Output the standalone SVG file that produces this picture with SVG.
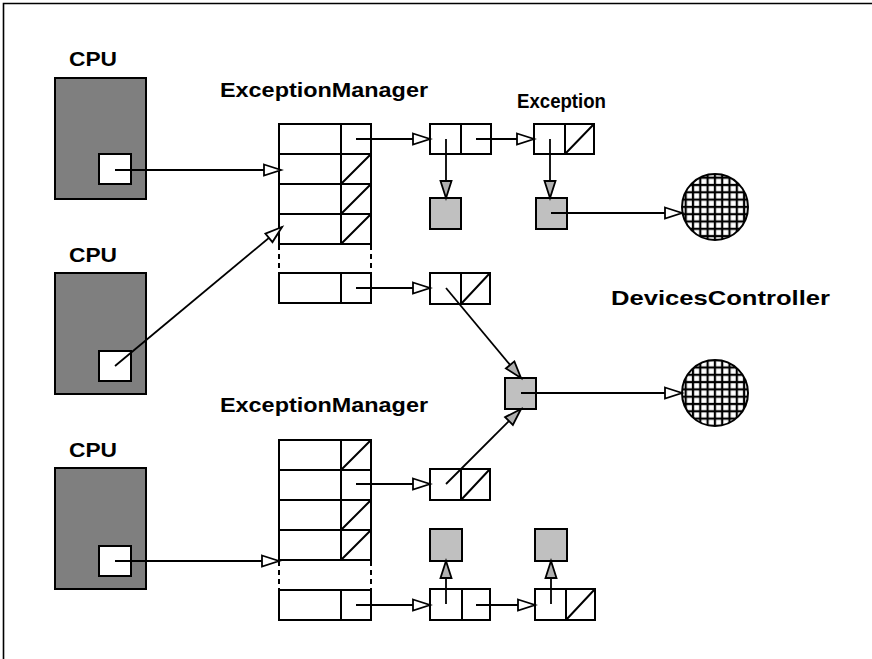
<svg xmlns="http://www.w3.org/2000/svg" width="872" height="659" viewBox="0 0 872 659">
  <style>
    .lbl { font-family: "Liberation Sans", Arial, Helvetica, sans-serif; font-weight: bold; font-size: 21px; fill: #000; }
    .cpu { fill: #7f7f7f; stroke: #000; stroke-width: 2; }
    .port { fill: #fff; stroke: #000; stroke-width: 2; }
    .cell { fill: #fff; stroke: #000; stroke-width: 2; }
    .obj { fill: #c0c0c0; stroke: #000; stroke-width: 2; }
    .slash { stroke: #000; stroke-width: 2; fill: none; }
    .dash { stroke: #000; stroke-width: 2; stroke-dasharray: 5 4; fill: none; }
    .dev { fill: url(#grid); stroke: #000; stroke-width: 2; }
    .wire { stroke: #000; stroke-width: 1.8; fill: none; }
    .w { marker-end: url(#arrowWhite); }
    .g { marker-end: url(#arrowGray); }
  </style>
  <defs>
    <marker id="arrowWhite" markerUnits="userSpaceOnUse" markerWidth="22" markerHeight="16" refX="17" refY="5.5" orient="auto" viewBox="-2 -2 22 16">
      <path d="M0,0 L17,5.5 L0,11 z" fill="#fff" stroke="#000" stroke-width="1.8"/>
    </marker>
    <marker id="arrowGray" markerUnits="userSpaceOnUse" markerWidth="22" markerHeight="16" refX="17" refY="5.5" orient="auto" viewBox="-2 -2 22 16">
      <path d="M0,0 L17,5.5 L0,11 z" fill="#b0b0b0" stroke="#000" stroke-width="1.8"/>
    </marker>
    <pattern id="grid" patternUnits="userSpaceOnUse" x="682" y="174" width="7.3" height="7.3">
      <rect width="7.3" height="7.3" fill="#fff"/>
      <rect x="2.6" y="0" width="2.2" height="7.3" fill="#000"/>
      <rect x="0" y="2.6" width="7.3" height="2.2" fill="#000"/>
    </pattern>
  </defs>

  <!-- frame -->
  <path d="M3.5,659 V3.5 H872" fill="none" stroke="#000" stroke-width="1.6"/>

  <!-- processors -->
  <g id="cpu1">
    <text class="lbl" x="69" y="66" textLength="48" lengthAdjust="spacingAndGlyphs">CPU</text>
    <rect class="cpu" x="55" y="78" width="91" height="121"/>
    <rect class="port" x="99" y="154" width="32" height="30"/>
  </g>
  <g id="cpu2">
    <text class="lbl" x="69" y="262" textLength="48" lengthAdjust="spacingAndGlyphs">CPU</text>
    <rect class="cpu" x="55" y="273" width="91" height="121"/>
    <rect class="port" x="99" y="351" width="32" height="30"/>
  </g>
  <g id="cpu3">
    <text class="lbl" x="69" y="457" textLength="48" lengthAdjust="spacingAndGlyphs">CPU</text>
    <rect class="cpu" x="55" y="468" width="91" height="121"/>
    <rect class="port" x="99" y="546" width="32" height="30"/>
  </g>

  <!-- upper exception manager table -->
  <g id="manager1">
    <text class="lbl" x="220" y="97" textLength="208" lengthAdjust="spacingAndGlyphs">ExceptionManager</text>
    <rect class="cell" x="279" y="124" width="92" height="120"/>
    <path class="slash" d="M279,154 H371 M279,184 H371 M279,214 H371 M341,124 V244"/>
    <path class="slash" d="M341,184 L371,154 M341,214 L371,184 M341,244 L371,214"/>
    <path class="dash" d="M279,245 V273 M371,245 V273"/>
    <rect class="cell" x="279" y="273" width="92" height="30"/>
    <path class="slash" d="M341,273 V303"/>
  </g>

  <!-- lower exception manager table -->
  <g id="manager2">
    <text class="lbl" x="220" y="412" textLength="208" lengthAdjust="spacingAndGlyphs">ExceptionManager</text>
    <rect class="cell" x="279" y="440" width="92" height="120"/>
    <path class="slash" d="M279,470 H371 M279,500 H371 M279,530 H371 M341,440 V560"/>
    <path class="slash" d="M341,470 L371,440 M341,530 L371,500 M341,560 L371,530"/>
    <path class="dash" d="M279,561 V590 M371,561 V590"/>
    <rect class="cell" x="279" y="590" width="92" height="30"/>
    <path class="slash" d="M341,590 V620"/>
  </g>

  <!-- exception list nodes -->
  <g id="exc1">
    <rect class="cell" x="430" y="124" width="61" height="30"/>
    <path class="slash" d="M461,124 V154"/>
  </g>
  <g id="exc2">
    <text class="lbl" x="517" y="108" textLength="89" lengthAdjust="spacingAndGlyphs">Exception</text>
    <rect class="cell" x="534" y="124" width="60" height="30"/>
    <path class="slash" d="M565,124 V154 M565,154 L594,124"/>
  </g>
  <g id="exc3">
    <rect class="cell" x="430" y="273" width="60" height="31"/>
    <path class="slash" d="M461,273 V304 M461,304 L490,273"/>
  </g>
  <g id="exc4">
    <rect class="cell" x="430" y="469" width="60" height="31"/>
    <path class="slash" d="M461,469 V500 M461,500 L490,469"/>
  </g>
  <g id="exc5">
    <rect class="cell" x="430" y="589" width="60" height="31"/>
    <path class="slash" d="M462,589 V620"/>
  </g>
  <g id="exc6">
    <rect class="cell" x="535" y="589" width="60" height="31"/>
    <path class="slash" d="M566,589 V620 M566,620 L595,589"/>
  </g>

  <!-- handler objects -->
  <g id="obj1"><rect class="obj" x="430" y="198" width="31" height="31"/></g>
  <g id="obj2"><rect class="obj" x="536" y="198" width="31" height="31"/></g>
  <g id="obj3"><rect class="obj" x="505" y="378" width="31" height="31"/></g>
  <g id="obj4"><rect class="obj" x="430" y="529" width="32" height="32"/></g>
  <g id="obj5"><rect class="obj" x="535" y="529" width="32" height="32"/></g>

  <!-- devices -->
  <g id="device1"><circle class="dev" cx="715" cy="207" r="33"/></g>
  <g id="device2">
    <text class="lbl" x="611" y="305" textLength="219" lengthAdjust="spacingAndGlyphs">DevicesController</text>
    <circle class="dev" cx="715" cy="393" r="33"/>
  </g>

  <!-- connectors -->
  <g id="connectors">
    <path class="wire w" d="M115,170 L281,170"/>
    <path class="wire w" d="M115,366 L282,227"/>
    <path class="wire w" d="M115,561 L279,561"/>
    <path class="wire w" d="M356,139 L430,139"/>
    <path class="wire w" d="M356,288 L430,288"/>
    <path class="wire g" d="M446,139 L446,198"/>
    <path class="wire w" d="M476,139 L534,139"/>
    <path class="wire g" d="M550,139 L550,198"/>
    <path class="wire w" d="M551,213 L682,213"/>
    <path class="wire g" d="M446,288 L521,378"/>
    <path class="wire g" d="M446,484 L521,409"/>
    <path class="wire w" d="M521,393 L682,393"/>
    <path class="wire w" d="M356,484 L430,484"/>
    <path class="wire w" d="M356,605 L430,605"/>
    <path class="wire g" d="M446,604 L446,561"/>
    <path class="wire w" d="M476,605 L535,605"/>
    <path class="wire g" d="M551,604 L551,561"/>
  </g>
</svg>
